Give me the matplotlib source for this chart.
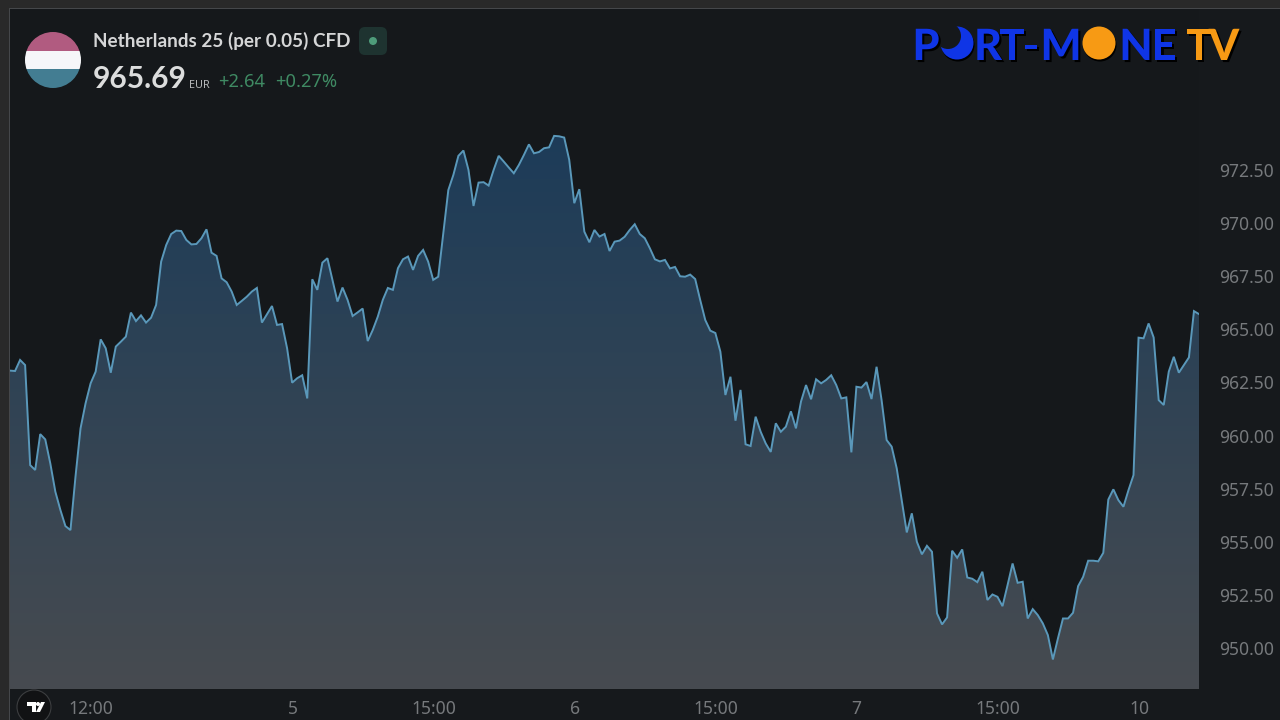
import numpy as np
import matplotlib
matplotlib.use("Agg")
import matplotlib.pyplot as plt
import matplotlib.patheffects as pe
from matplotlib.colors import LinearSegmentedColormap
from matplotlib.patches import Circle, Rectangle, FancyBboxPatch, Polygon

plt.rcParams['font.family'] = ['Noto Sans', 'DejaVu Sans']

# precios
prices_1 = [963.06, 963.04, 963.56, 963.32, 958.61, 958.38, 960.07, 959.82, 958.69, 957.36,
            956.50, 955.74, 955.55, 958.07, 960.34, 961.52, 962.46, 963.01, 964.53, 964.11,
            962.96, 964.19, 964.42, 964.66, 965.79, 965.39, 965.66, 965.32, 965.55, 966.15,
            968.19, 968.97, 969.49, 969.65, 969.63, 969.21, 969.00, 969.02, 969.29, 969.71,
            968.61, 968.46, 967.40, 967.22, 966.78, 966.15, 966.34, 966.54, 966.78, 966.95,
            965.32, 965.71, 966.10, 965.21, 965.25, 964.11, 962.49, 962.70, 962.84, 961.75]
prices_2 = [967.36, 966.86, 968.14, 968.35, 967.33, 966.31, 966.97, 966.39, 965.63, 965.80,
            965.98, 964.45, 964.97, 965.60, 966.39, 966.95, 966.86, 967.88, 968.30, 968.43,
            967.80, 968.46, 968.74, 968.19, 967.33, 967.48, 969.52, 971.56, 972.27, 973.17,
            973.42, 972.51, 970.81, 971.91, 971.93, 971.77, 972.51, 973.17, 972.90, 972.62,
            972.35, 972.74, 973.21, 973.71, 973.29, 973.35, 973.53, 973.57, 974.11, 974.09,
            974.03, 972.98, 970.94, 971.60, 969.60, 969.10, 969.68, 969.37, 969.49, 968.69,
            969.13, 969.18]
prices_3 = [969.36, 969.68, 969.95, 969.49, 969.29, 968.82, 968.30, 968.20, 968.27, 967.87,
            967.94, 967.50, 967.48, 967.58, 967.37, 966.38, 965.44, 964.94, 964.83, 963.95,
            961.91, 962.77, 960.70, 962.15, 959.59, 959.51, 960.89, 960.18, 959.63, 959.23,
            960.58, 960.18, 960.42, 961.14, 960.34, 961.60, 962.38, 961.71, 962.65, 962.46,
            962.62, 962.84, 962.38, 961.75, 961.80, 959.21, 962.30, 962.26, 962.52, 961.72,
            963.24, 961.67, 959.79, 959.48, 958.46]
prices_4 = [956.96, 955.44, 956.34, 955.00, 954.41, 954.81, 954.53, 951.63, 951.11, 951.44,
            954.58, 954.25, 954.64, 953.32, 953.26, 953.10, 953.59, 952.26, 952.52, 952.41,
            951.97, 952.96, 953.98, 953.07, 953.12, 951.39, 951.83, 951.55, 951.16, 950.61,
            949.46, 950.45, 951.39, 951.39, 951.66, 952.91, 953.35, 954.11, 954.11, 954.08,
            954.48, 956.99, 957.47, 956.96, 956.65, 957.43, 958.14, 964.61, 964.58, 965.28,
            964.62, 961.67, 961.44, 963.01, 963.71, 962.96, 963.32, 963.68, 965.86, 965.72]
prices = prices_1 + prices_2 + prices_3 + prices_4

y_ticks = [950, 952.5, 955, 957.5, 960, 962.5, 965, 967.5, 970, 972.5]
x_ticks = [16, 56.2, 84.2, 112.2, 140.2, 168, 196, 224.1]
x_labels = ['12:00', '5', '15:00', '6', '15:00', '7', '15:00', '10']

title = 'Netherlands 25 (per 0.05) CFD'
last_price = '965.69'
currency = 'EUR'
change = '+2.64'
change_pct = '+0.27%'

BG = '#15181b'
STRIP = '#16191c'
FRAME = '#292929'
TICK = '#76797c'
BLUE = '#0f35e6'
ORANGE = '#f79a14'

fig = plt.figure(figsize=(12.8, 7.2), dpi=100, facecolor=STRIP)
ax = fig.add_axes([10 / 1280, 31 / 720, 1189 / 1280, 681 / 720], facecolor=BG)

x = np.arange(len(prices))
ax.set_xlim(0, len(prices) - 1)
ax.set_ylim(948.07, 980.13)

# Relleno con degradado vertical recortado bajo la linea
cmap = LinearSegmentedColormap.from_list('area', [(0, '#1b3b59'), (0.15, '#1b3b59'),
                                                  (0.45, '#2a4156'), (1, '#474b50')])
grad = np.linspace(0, 1, 256).reshape(-1, 1)
im = ax.imshow(grad, cmap=cmap, aspect='auto', origin='upper',
               extent=(0, len(prices) - 1, 948.07, 980.13), zorder=1)
area = ax.fill_between(x, prices, 948.07, color='none')
im.set_clip_path(area.get_paths()[0], transform=ax.transData)
ax.plot(x, prices, color='#5a98ba', lw=1.4, zorder=2, solid_joinstyle='miter')

for s in ax.spines.values():
    s.set_visible(False)
ax.yaxis.tick_right()
ax.set_yticks(y_ticks)
ax.set_yticklabels([f'{v:.2f}' for v in y_ticks])
ax.set_xticks(x_ticks)
ax.set_xticklabels(x_labels)
ax.tick_params(axis='y', length=0, pad=14.5, labelsize=12.6, labelcolor=TICK)
ax.tick_params(axis='x', length=0, pad=8, labelsize=12.6, labelcolor=TICK)

# Capa superior en pixeles para cabecera y logos
top = fig.add_axes([0, 0, 1, 1], facecolor='none')
top.set_xlim(0, 1280)
top.set_ylim(720, 0)
top.axis('off')

top.add_patch(Rectangle((0, 0), 9, 720, color=FRAME, lw=0))
top.add_patch(Rectangle((0, 0), 1280, 8, color=FRAME, lw=0))
top.add_patch(Rectangle((9, 8), 1, 712, color='#45474a', lw=0))
top.add_patch(Rectangle((9, 8), 1271, 1, color='#45474a', lw=0))

# Bandera
flag = Circle((53, 60), 28, transform=top.transData, color='none')
top.add_patch(flag)
for y0, h, col in [(32, 19, '#b15b80'), (51, 18, '#f6f6f9'), (69, 19, '#437d92')]:
    band = Rectangle((25, y0), 56, h, color=col, lw=0)
    top.add_patch(band)
    band.set_clip_path(flag)

top.text(93, 41, title, color='#d5d6d7', fontsize=13.6, fontweight='bold', family='Lato',
         va='center', ha='left')
top.add_patch(FancyBboxPatch((363, 31), 20, 20, boxstyle='round,pad=4,rounding_size=6',
                             color='#1e3330', lw=0))
top.add_patch(Circle((373, 41), 4, color='#4e9c7a', lw=0))

top.text(93, 88, last_price, color='#dcdddd', fontsize=21.6, fontweight='bold', family='Lato',
         va='baseline', ha='left')
top.text(189, 88, currency, color='#b5b7b9', fontsize=7.8, va='baseline', ha='left')
top.text(218, 87, change, color='#3f8a63', fontsize=13.2, va='baseline', ha='left')
top.text(275, 87, change_pct, color='#3f8a63', fontsize=13.2, va='baseline', ha='left')

# Logo PORT-MONE TV
logo = [('P', 926, BLUE), ('R', 988, BLUE), ('T', 1012, BLUE), ('-', 1031, BLUE), ('M', 1061, BLUE),
        ('N', 1136, BLUE), ('E', 1164, BLUE), ('T', 1199, ORANGE), ('V', 1224, ORANGE)]
for ch, lx, col in logo:
    top.text(lx, 60, ch, color=col, fontsize=31, fontweight='black', family='Lato',
             ha='center', va='baseline',
             path_effects=[pe.withSimplePatchShadow(offset=(1.5, -1.5), shadow_rgbFace='black', alpha=1)])
top.add_patch(Circle((958, 45), 16.5, color='#000000', lw=0))
top.add_patch(Circle((957, 43), 16.5, color=BLUE, lw=0))
top.add_patch(Circle((948, 36), 13, color=BG, lw=0))
top.add_patch(Circle((1100, 45), 16.5, color='#000000', lw=0))
top.add_patch(Circle((1099, 43), 16.5, color=ORANGE, lw=0))

# Logo TradingView
top.add_patch(Circle((34, 707), 17, facecolor='#111214', edgecolor='#3c3e40', lw=0.8))
top.add_patch(Polygon([(27, 702), (36, 702), (36, 712), (32, 712), (32, 706), (27, 706)], color='white', lw=0))
top.add_patch(Circle((38, 704), 2, color='white', lw=0))
top.add_patch(Polygon([(41, 702), (45, 702), (40, 712), (36, 712)], color='white', lw=0))

fig.savefig('out.png', dpi=100, facecolor=fig.get_facecolor())
